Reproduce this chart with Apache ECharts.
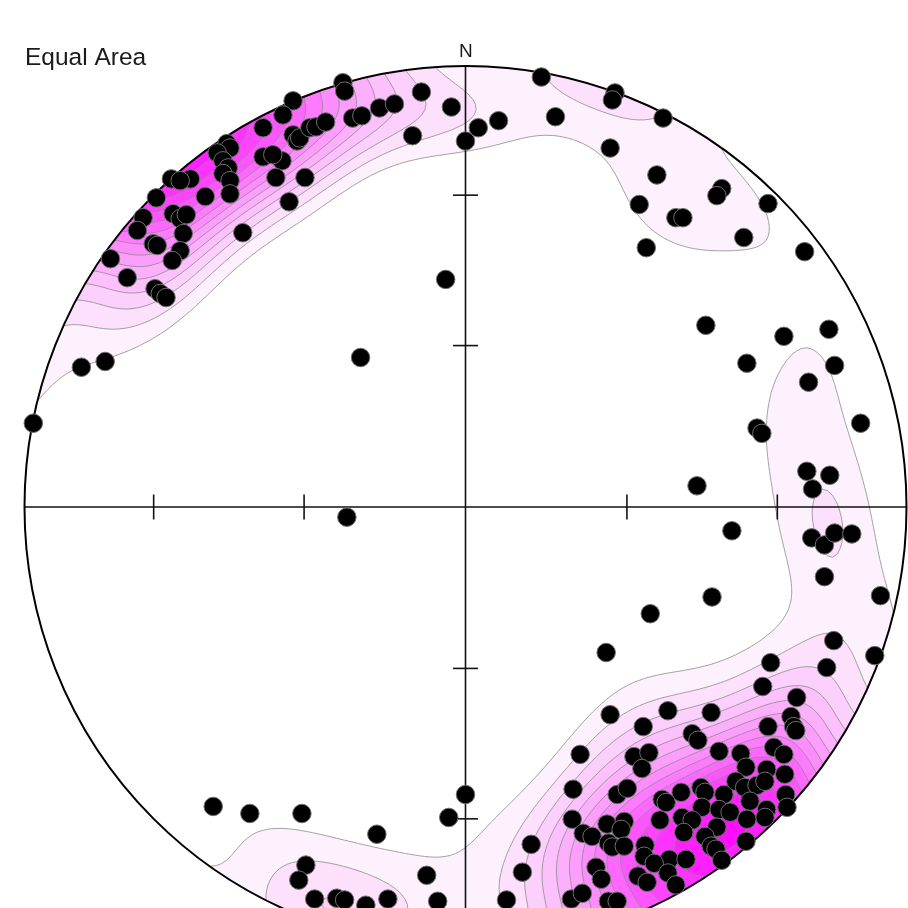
<!DOCTYPE html>
<html>
<head>
<meta charset="utf-8">
<title>Equal Area</title>
<script src="https://cdn.jsdelivr.net/npm/echarts@6/dist/echarts.min.js"></script>
<style>
  html, body { margin: 0; padding: 0; background: #fff; }
  #main { width: 908px; height: 908px; }
</style>
</head>
<body>
<div id="main"></div>
<script>
// lineations on the lower-hemisphere equal-area net, x / y in % of the primitive radius
const ptX = [
  -39.1, -41.4, -45.9, -39.1, -38.2, -37.6, -35.3, -33.9, -31.7, -27.8,
  -27.4, -54.1, -53.4, -56.3, -55.0, -53.8, -55.0, -53.4, -45.9, -41.6,
  -43.7, -43.0, -36.4, -40.0, -50.5, -53.4, -59.0, -62.4, -66.7, -64.7,
  -70.1, -73.1, -66.3, -64.7, -63.3, -64.0, -74.4, -70.8, -69.9, -64.7,
  -66.5, -80.5, -76.7, -70.4, -69.2, -67.9, -87.1, -81.7, -98.0, -23.8,
  -26.9, -4.5, -25.6, -23.5, -19.5, -16.1, -10.0, -3.2, -12.0, 0.0,
  2.9, 7.5, 17.2, 20.4, 32.8, 33.9, 33.3, 44.8, 43.4, 58.1,
  57.0, 39.4, 47.7, 49.3, 68.6, 63.1, 41.0, 76.9, 54.5, 72.2,
  82.4, 63.8, 83.7, 77.8, 89.6, 66.1, 67.2, 77.4, 82.6, 78.7,
  52.5, 60.4, 78.5, 81.4, 83.7, 87.6, 81.4, 94.1, 55.9, 41.9,
  83.5, 92.8, 81.9, 31.9, 69.2, 67.4, 75.1, 32.8, 45.9, 55.7,
  73.8, 74.4, 74.9, 68.6, 40.3, 51.4, 52.7, 26.0, 38.2, 41.6,
  40.0, 57.5, 62.4, 69.9, 72.2, 63.6, 68.3, 72.4, 24.4, 34.4,
  36.7, 53.4, 54.3, 48.9, 58.6, 61.3, 63.3, 66.1, 64.5, 67.9,
  72.6, 72.9, 44.6, 45.5, 24.2, 53.6, 57.5, 60.0, 68.3, 67.9,
  63.8, 26.7, 28.7, 32.1, 36.0, 35.3, 44.1, 49.1, 51.4, 57.0,
  49.5, 54.3, 55.7, 56.8, 58.1, 63.6, 32.4, 33.3, 36.0, 40.7,
  46.2, 50.0, 29.6, 40.5, 42.8, 30.8, 39.1, 41.2, 45.9, 47.7,
  24.0, 26.5, 32.4, 34.4, 14.9, 12.9, 9.3, 0.0, -3.8, -57.2,
  -48.9, -37.1, -20.1, -36.2, -37.8, -8.8, -34.2, -29.2, -27.4, -22.6,
  -17.6, -6.3
];
const ptY = [
  92.1, 88.9, 86.0, 84.4, 83.0, 83.7, 86.0, 86.2, 87.3, 96.2,
  94.3, 82.4, 81.4, 80.3, 78.5, 76.9, 75.6, 74.0, 79.4, 78.5,
  79.9, 74.7, 74.7, 69.2, 62.2, 71.0, 70.4, 74.4, 74.4, 74.0,
  70.1, 65.6, 66.5, 65.4, 66.3, 62.0, 62.7, 59.7, 59.3, 58.1,
  55.9, 56.3, 52.0, 49.5, 48.4, 47.5, 31.7, 33.0, 19.0, 33.9,
  -2.3, 51.6, 88.2, 88.7, 90.5, 91.4, 94.1, 90.7, 84.2, 83.0,
  86.0, 87.6, 97.5, 88.5, 81.4, 93.9, 92.3, 88.2, 75.3, 72.2,
  70.6, 68.6, 65.6, 65.6, 68.8, 61.1, 58.8, 57.9, 41.2, 38.7,
  40.3, 32.6, 32.1, 28.3, 19.0, 17.9, 16.7, 8.1, 7.2, 4.1,
  4.8, -5.4, -7.0, -8.6, -5.9, -6.1, -15.8, -20.1, -20.4, -24.2,
  -30.3, -33.7, -36.4, -33.0, -35.3, -40.7, -43.2, -47.1, -46.2, -46.6,
  -47.5, -49.8, -50.7, -49.8, -49.8, -51.4, -52.9, -56.1, -56.6, -55.7,
  -59.3, -55.4, -55.9, -54.5, -56.1, -59.0, -59.5, -60.6, -64.0, -65.2,
  -63.8, -63.6, -64.7, -64.7, -65.2, -62.2, -63.6, -63.1, -66.7, -62.2,
  -65.2, -68.1, -66.3, -67.0, -70.8, -68.1, -68.6, -69.2, -68.6, -70.4,
  -70.8, -74.0, -74.7, -71.9, -71.3, -73.1, -71.0, -70.4, -71.0, -72.6,
  -73.8, -74.7, -76.9, -77.6, -80.1, -75.8, -76.2, -77.1, -76.9, -76.7,
  -79.9, -79.9, -81.7, -79.2, -80.8, -84.4, -83.7, -85.1, -83.0, -85.7,
  -88.9, -87.6, -89.4, -89.4, -76.5, -82.8, -89.1, -65.2, -70.4, -67.9,
  -69.5, -69.5, -74.2, -81.2, -84.6, -83.5, -88.9, -88.7, -89.1, -90.3,
  -88.9, -89.4
];
// plunge ticks on the N-S and E-W diameters
const tickPlunges = [30, 60];
// density contours: lowest level as a share of the maximum, number of levels
const firstLevel = 0.13;
const contourCount = 14;
const levelColors = [
  '#fdf1fd', '#fce0fc', '#fcd0fc', '#fcc0fc', '#fcb0fc', '#fd9efd', '#fd8cfd',
  '#fe7afe', '#fe68fe', '#fe56fe', '#ff44ff', '#ff32ff', '#ff20ff', '#ff0eff'
];

// equal-area radius (1 = primitive) for a given plunge
function projRadius(plunge) {
  return Math.SQRT2 * Math.sin((90 - plunge) / 2 * Math.PI / 180);
}
// inverse equal-area projection to a unit vector
function toVector(x, y) {
  const r = Math.min(Math.hypot(x, y), Math.SQRT2);
  if (r === 0) return [0, 0, 1];
  const th = 2 * Math.asin(r / Math.SQRT2);
  return [Math.sin(th) * x / r, Math.sin(th) * y / r, Math.cos(th)];
}

const vecs = ptX.map((x, i) => toVector(x / 100, ptY[i] / 100));
// exponential kernel smoothing (Vollmer 1995)
const kappa = 2 * (1 + ptX.length / 9);

// density grid, axial data; border nodes forced low so every contour closes
const N = 180, B = 1.04, W = N + 1;
const gx = i => -B + 2 * B * i / N;
const field = new Float64Array(W * W);
let maxD = 0;
for (let j = 0; j < W; j++) {
  for (let i = 0; i < W; i++) {
    if (i === 0 || j === 0 || i === N || j === N) { field[j * W + i] = -1; continue; }
    const v = toVector(gx(i), gx(j));
    let s = 0;
    for (const p of vecs) {
      const c = Math.abs(v[0] * p[0] + v[1] * p[1] + v[2] * p[2]);
      s += Math.exp(kappa * (c - 1));
    }
    field[j * W + i] = s;
    if (Math.hypot(gx(i), gx(j)) <= 1 && s > maxD) maxD = s;
  }
}
const t0 = firstLevel * maxD;
const step = (maxD - t0) / (contourCount - 0.7);
const levels = [];
for (let k = 0; k < contourCount; k++) levels.push(t0 + k * step);

// marching squares -> closed loops, region >= t kept on the left
function traceLoops(t) {
  const val = (i, j) => field[j * W + i];
  const pts = new Map();
  const next = new Map();
  const hId = (i, j) => (j * W + i) * 2;
  const vId = (i, j) => (j * W + i) * 2 + 1;
  function edgePt(id) {
    if (pts.has(id)) return;
    const n = id >> 1, i = n % W, j = (n - i) / W;
    const i2 = (id & 1) ? i : i + 1, j2 = (id & 1) ? j + 1 : j;
    const a = val(i, j), b = val(i2, j2);
    const f = (t - a) / (b - a);
    pts.set(id, [gx(i) + f * (gx(i2) - gx(i)), gx(j) + f * (gx(j2) - gx(j))]);
  }
  for (let j = 0; j < N; j++) {
    for (let i = 0; i < N; i++) {
      const vals = [val(i, j), val(i + 1, j), val(i + 1, j + 1), val(i, j + 1)];
      const ins = vals.map(v => v >= t);
      if (ins[0] === ins[1] && ins[1] === ins[2] && ins[2] === ins[3]) continue;
      const edges = [hId(i, j), vId(i + 1, j), hId(i, j + 1), vId(i, j)];
      const cr = [];
      for (let k = 0; k < 4; k++) {
        const a = ins[k], b = ins[(k + 1) % 4];
        if (a !== b) cr.push({ e: edges[k], out: a });
      }
      const centreIn = (vals[0] + vals[1] + vals[2] + vals[3]) / 4 >= t;
      const m = cr.length;
      for (let k = 0; k < m; k++) {
        if (!cr[k].out) continue;
        const to = (m === 2 || centreIn) ? cr[(k + 1) % m] : cr[(k - 1 + m) % m];
        next.set(cr[k].e, to.e);
        edgePt(cr[k].e); edgePt(to.e);
      }
    }
  }
  const loops = [];
  for (const start of next.keys()) {
    if (!next.has(start)) continue;
    const loop = [];
    let e = start;
    while (next.has(e)) {
      loop.push(pts.get(e));
      const n2 = next.get(e);
      next.delete(e);
      e = n2;
    }
    if (loop.length > 2) loops.push(loop);
  }
  return loops;
}
const contourLoops = levels.map(traceLoops);

const chart = echarts.init(document.getElementById('main'), null, { renderer: 'canvas' });
chart.setOption({
  animation: false,
  backgroundColor: '#fff',
  title: [
    { text: 'Equal Area', left: 25, top: 46, padding: 0,
      textStyle: { fontSize: 24.5, fontWeight: 'normal', color: '#1a1a1a', fontFamily: 'Liberation Sans' } },
    { text: 'N', left: 459, top: 42, padding: 0,
      textStyle: { fontSize: 19, fontWeight: 'normal', color: '#1a1a1a', fontFamily: 'Liberation Sans' } }
  ],
  grid: { left: 24.5, top: 66, width: 882, height: 882, outerBoundsMode: 'none' },
  xAxis: { type: 'value', min: -1, max: 1, show: false },
  yAxis: { type: 'value', min: -1, max: 1, show: false },
  series: [
    {
      type: 'custom',
      name: 'contours',
      coordinateSystem: 'cartesian2d',
      silent: true,
      z: 1,
      data: levels.map((t, i) => [i, 0]),
      renderItem(params, api) {
        const li = params.dataIndex;
        let d = '';
        contourLoops[li].forEach(loop => {
          loop.forEach((p, k) => {
            const c = api.coord(p);
            d += (k ? 'L' : 'M') + c[0].toFixed(2) + ' ' + c[1].toFixed(2);
          });
          d += 'Z';
        });
        return {
          type: 'path',
          z2: li,
          shape: { pathData: d },
          style: { fill: levelColors[Math.min(li, levelColors.length - 1)], stroke: '#8c8c8c', lineWidth: 0.8 }
        };
      }
    },
    {
      type: 'custom',
      name: 'mask',
      coordinateSystem: 'cartesian2d',
      silent: true,
      z: 3,
      data: [[0, 0]],
      renderItem(params, api) {
        const c = api.coord([0, 0]);
        const r = api.size([1, 1])[0] + 0.5;
        const w = api.getWidth(), h = api.getHeight();
        let d = 'M-10 -10L' + (w + 10) + ' -10L' + (w + 10) + ' ' + (h + 120) + 'L-10 ' + (h + 120) + 'Z';
        for (let a = 0; a <= 360; a++) {
          const rad = -a * Math.PI / 180;
          d += (a ? 'L' : 'M') + (c[0] + r * Math.cos(rad)).toFixed(2) + ' ' + (c[1] + r * Math.sin(rad)).toFixed(2);
        }
        d += 'Z';
        return { type: 'path', shape: { pathData: d }, style: { fill: '#fff' } };
      }
    },
    {
      type: 'custom',
      name: 'net',
      coordinateSystem: 'cartesian2d',
      silent: true,
      z: 4,
      data: [[0, 0]],
      renderItem(params, api) {
        const c = api.coord([0, 0]);
        const r = api.size([1, 1])[0];
        const ls = { stroke: '#111', lineWidth: 1.6 };
        const half = 12.5;
        const children = [
          { type: 'line', shape: { x1: c[0] - r, y1: c[1], x2: c[0] + r, y2: c[1] }, style: ls },
          { type: 'line', shape: { x1: c[0], y1: c[1] - r, x2: c[0], y2: c[1] + r }, style: ls }
        ];
        tickPlunges.forEach(p => {
          const d = projRadius(p) * r;
          [-1, 1].forEach(s => {
            children.push({ type: 'line', shape: { x1: c[0] + s * d, y1: c[1] - half, x2: c[0] + s * d, y2: c[1] + half }, style: ls });
            children.push({ type: 'line', shape: { x1: c[0] - half, y1: c[1] + s * d, x2: c[0] + half, y2: c[1] + s * d }, style: ls });
          });
        });
        children.push({ type: 'circle', shape: { cx: c[0], cy: c[1], r: r }, style: { fill: 'none', stroke: '#000', lineWidth: 2 } });
        return { type: 'group', children: children };
      }
    },
    {
      type: 'scatter',
      name: 'lineations',
      z: 5,
      clip: false,
      symbol: 'circle',
      symbolSize: 18.5,
      itemStyle: { color: '#000', borderColor: '#6f6f6f', borderWidth: 1, opacity: 1 },
      data: ptX.map((x, i) => [x / 100, ptY[i] / 100])
    }
  ]
});
</script>
</body>
</html>
